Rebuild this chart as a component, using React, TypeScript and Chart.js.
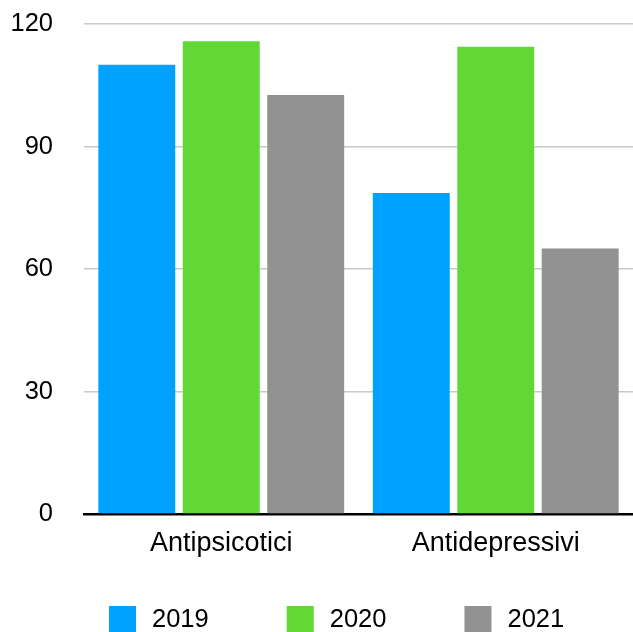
import React, { useEffect, useRef } from 'react';
import { Chart, registerables } from 'chart.js';

Chart.register(...registerables);

const categories = ['Antipsicotici', 'Antidepressivi'];
const seriesLabels = ['2019', '2020', '2021'];
const values2019 = [110, 78.6];
const values2020 = [115.8, 114.4];
const values2021 = [102.6, 65];
const yTickValues = [0, 30, 60, 90, 120];
const seriesColors = ['#00A2FF', '#61D836', '#929292'];

const FONT_FAMILY = '"Liberation Sans", Arial, Helvetica, sans-serif';

const customLegend = {
  id: 'customLegend',
  afterDraw(chart: any) {
    const ctx = chart.ctx as CanvasRenderingContext2D;
    const box = 27;
    const textGap = 16;
    const itemGap = 78;
    const top = 606;
    let x = 109;
    ctx.save();
    ctx.font = `25.5px ${FONT_FAMILY}`;
    ctx.textBaseline = 'middle';
    ctx.textAlign = 'left';
    chart.data.datasets.forEach((ds: any) => {
      ctx.fillStyle = ds.backgroundColor;
      ctx.fillRect(x, top, box, box);
      ctx.fillStyle = '#000000';
      const tx = x + box + textGap;
      ctx.fillText(ds.label, tx, top + box / 2);
      x = tx + ctx.measureText(ds.label).width + itemGap;
    });
    ctx.restore();
  },
};

export default function App() {
  const canvasRef = useRef<HTMLCanvasElement | null>(null);

  useEffect(() => {
    if (!canvasRef.current) return;
    const allValues = [values2019, values2020, values2021];
    const chart = new Chart(canvasRef.current, {
      type: 'bar',
      data: {
        labels: categories,
        datasets: seriesLabels.map((label, i) => ({
          label,
          data: allValues[i],
          backgroundColor: seriesColors[i],
          borderWidth: 0,
          categoryPercentage: 0.923,
          barPercentage: 0.911,
        })),
      },
      options: {
        responsive: false,
        animation: false,
        layout: { padding: { top: 24, right: 0, bottom: 68, left: 0 } },
        plugins: {
          legend: { display: false },
          tooltip: { enabled: false },
        },
        scales: {
          x: {
            z: 1,
            grid: { display: false, drawTicks: false },
            border: { display: true, color: '#000000', width: 2.5 },
            ticks: {
              color: '#000000',
              font: { family: FONT_FAMILY, size: 27 },
              padding: 13,
              maxRotation: 0,
            },
            afterFit(scale: any) {
              scale.height = 50;
            },
          },
          y: {
            min: 0,
            max: 120,
            afterBuildTicks(scale: any) {
              scale.ticks = yTickValues.map((v) => ({ value: v }));
            },
            grid: { color: '#C9C9C9', lineWidth: 1.5, drawTicks: false },
            border: { display: false },
            ticks: {
              color: '#000000',
              font: { family: FONT_FAMILY, size: 25.5 },
              padding: 31,
            },
            afterFit(scale: any) {
              scale.width = 84;
              scale.paddingTop = 0;
              scale.paddingBottom = 0;
            },
          },
        },
      },
      plugins: [customLegend],
    });
    return () => chart.destroy();
  }, []);

  return (
    <div style={{ position: 'fixed', left: 0, top: 0, width: 633, height: 632, background: '#ffffff' }}>
      <canvas ref={canvasRef} width={633} height={632} style={{ display: 'block', width: 633, height: 632 }} />
    </div>
  );
}
